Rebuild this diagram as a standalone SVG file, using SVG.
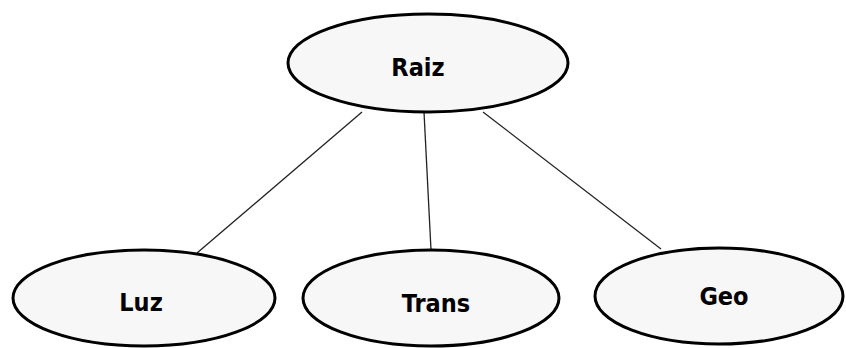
<svg xmlns="http://www.w3.org/2000/svg" width="846" height="348" viewBox="0 0 846 348">
<style>
.node ellipse{fill:#f7f7f7;stroke:#000;stroke-width:3}
.node text{font-family:"DejaVu Sans Condensed","DejaVu Sans",sans-serif;font-stretch:condensed;font-weight:bold;font-size:25px;fill:#000;text-anchor:middle}
.edges line{stroke:#222;stroke-width:1.3}
</style>
<rect width="846" height="348" fill="#fff"/>
<g class="edges">
<line x1="362" y1="112" x2="197" y2="253"/>
<line x1="424" y1="112" x2="431" y2="250"/>
<line x1="483" y1="112" x2="661" y2="249"/>
</g>
<g id="raiz" class="node"><ellipse cx="428" cy="63" rx="140" ry="49"/><text x="418" y="76">Raiz</text></g>
<g id="luz" class="node"><ellipse cx="144" cy="298" rx="131" ry="48"/><text x="141" y="311">Luz</text></g>
<g id="trans" class="node"><ellipse cx="431" cy="298" rx="128" ry="48"/><text x="436" y="312">Trans</text></g>
<g id="geo" class="node"><ellipse cx="719" cy="296" rx="124" ry="48"/><text x="724" y="305">Geo</text></g>
</svg>
